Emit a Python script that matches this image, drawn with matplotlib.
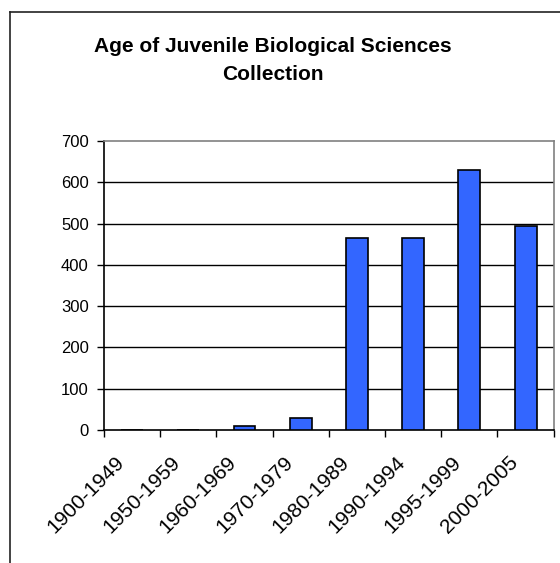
import numpy as np
import matplotlib.pyplot as plt
import matplotlib.transforms as mtransforms
from matplotlib.lines import Line2D

plt.rcParams['font.family'] = ['Liberation Sans', 'DejaVu Sans']

# data
periods = ['1900-1949', '1950-1959', '1960-1969', '1970-1979',
           '1980-1989', '1990-1994', '1995-1999', '2000-2005']
counts = [0, 0, 10, 29, 464, 464, 629, 493]
yticks = [0, 100, 200, 300, 400, 500, 600, 700]

fig = plt.figure(figsize=(5.6, 5.63), dpi=100)
ax = fig.add_axes([104/560, 1-430/563, (553.7-104)/560, (430-141)/563])

x = np.arange(len(periods))
ax.bar(x, counts, width=0.39, color='#3366FF', edgecolor='black', linewidth=1.2, zorder=3)

ax.set_xlim(-0.5, len(periods)-0.5)
ax.set_ylim(0, 700)
ax.set_yticks(yticks)
ax.set_yticklabels([str(v) for v in yticks], fontsize=12)
for v in yticks[1:-1]:
    ax.axhline(v, color='black', linewidth=1, zorder=1)

# ticks on the boundaries, labels at the centers
ax.set_xticks(np.arange(len(periods)+1)-0.5)
ax.set_xticklabels([])
ax.set_xticks(x, minor=True)
ax.set_xticklabels(periods, minor=True, fontsize=15, rotation=45,
                   ha='right', va='center', rotation_mode='anchor')
ax.tick_params(axis='x', which='minor', length=0, pad=21)
ax.tick_params(axis='x', which='major', length=5, width=1, direction='out')
ax.tick_params(axis='y', length=5, width=1, direction='out', pad=6)
offset = mtransforms.ScaledTranslation(-11/100, 0, fig.dpi_scale_trans)
for lab in ax.get_xticklabels(minor=True):
    lab.set_transform(lab.get_transform() + offset)

ax.spines['left'].set_color('black')
ax.spines['bottom'].set_color('black')
ax.spines['top'].set_color('#808080')
ax.spines['right'].set_color('#808080')
for s in ax.spines.values():
    s.set_linewidth(1.2)

fig.text(273/560, 1-46/563, 'Age of Juvenile Biological Sciences', ha='center', va='center',
         fontsize=15, fontweight='bold')
fig.text(273/560, 1-74/563, 'Collection', ha='center', va='center',
         fontsize=15, fontweight='bold')

# chart border (cut off on right and bottom)
fig.add_artist(Line2D([10/560, 10/560], [0, 1-12/563], color='#222222', linewidth=1.2))
fig.add_artist(Line2D([10/560, 1], [1-12/563, 1-12/563], color='#222222', linewidth=1.2))

fig.savefig('out.png', dpi=100)
